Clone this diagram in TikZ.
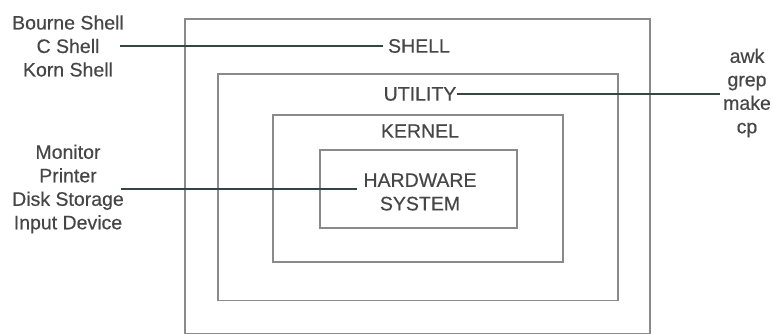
\documentclass[tikz,border=0pt]{standalone}
\usepackage{fontspec}
\setmainfont{Liberation Sans}
\newfontfamily\labelfont[FakeBold=0.4]{Liberation Sans}
\usetikzlibrary{positioning}
\definecolor{inkgray}{HTML}{464646}
\definecolor{boxgray}{HTML}{8A8A8A}
\definecolor{wiregray}{HTML}{354545}

\begin{document}
\begin{tikzpicture}[x=1pt, y=1pt,
    layer/.style={draw=boxgray, line width=1.1pt},
    tag/.style={text=inkgray, inner sep=0pt, font=\labelfont\fontsize{19.5}{23.5}\selectfont},
    group/.style={tag, align=center},
    wire/.style={draw=wiregray, line width=1.3pt}]
        \useasboundingbox (0,0) rectangle (773,334);
        % The four nested layers.
            \draw[layer] (185,0.6) rectangle (650,315);
            \draw[layer] (218,33.5) rectangle (618,260);
            \draw[layer] (273,72) rectangle (563,219);
            \draw[layer] (320,106) rectangle (517,184);
        % Below nodes are the labels.
            \node[tag] (shell) at (419,288) {SHELL};
            \node[tag] (utility) at (420,240) {UTILITY};
            \node[tag] (kernel) at (420,203) {KERNEL};
            \node[group] (hardware) at (420,142) {HARDWARE\\SYSTEM};
            \node[group] (shells) at (68,288) {Bourne Shell\\C Shell\\Korn Shell};
            \node[group] (devices) at (68,145) {Monitor\\Printer\\Disk Storage\\Input Device};
            \node[group] (tools) at (747,241) {awk\\grep\\make\\cp};
        % These draw the connectors.
            \draw[wire] ([xshift=-4pt]shells.east) -- ([xshift=-5pt]shells.east -| shell.west);
            \draw[wire] (utility.east) -- ([xshift=-3pt]utility.east -| tools.west);
            \draw[wire] ([xshift=-3pt]devices.east) -- ([xshift=-6pt]devices.east -| hardware.west);
    \end{tikzpicture}
\end{document}
